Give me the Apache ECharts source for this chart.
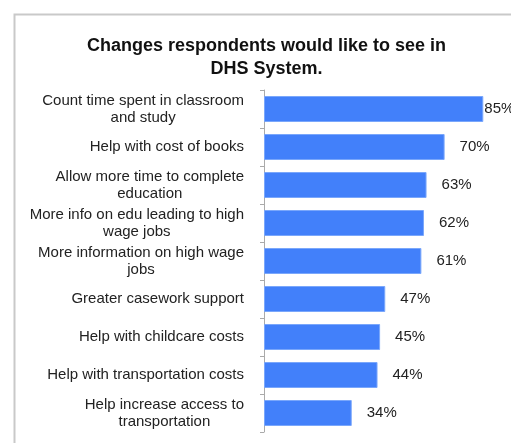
<!DOCTYPE html>
<html>
<head>
<meta charset="utf-8">
<script src="https://cdn.jsdelivr.net/npm/echarts@6/dist/echarts.min.js"></script>
<style>
  html, body { margin: 0; padding: 0; background: #fff; }
  #chart { width: 511px; height: 443px; }
</style>
</head>
<body>
<div id="chart"></div>
<script>
// Survey answers, top to bottom
var categories = [
  'Count time spent in classroom\nand study',
  'Help with cost of books',
  'Allow more time to complete\neducation',
  'More info on edu leading to high\nwage jobs',
  'More information on high wage\njobs',
  'Greater casework support',
  'Help with childcare costs',
  'Help with transportation costs',
  'Help increase access to\ntransportation'
];
// Share of respondents (%)
var percents = [85, 70, 63, 62, 61, 47, 45, 44, 34];

var FONT = '"Liberation Sans", Arial, sans-serif';
var LABEL_SIZE = 15;
var LABEL_COLOR = '#222222';

var chart = echarts.init(document.getElementById('chart'), null, { renderer: 'canvas' });

chart.setOption({
  backgroundColor: '#ffffff',
  animation: false,
  title: {
    text: 'Changes respondents would like to see in\nDHS System.',
    left: 261.5,
    top: 29.5,
    textAlign: 'center',
    textStyle: {
      fontFamily: FONT,
      fontSize: 18,
      fontWeight: 'bold',
      color: '#111111',
      lineHeight: 23
    }
  },
  graphic: [{
    type: 'rect',
    left: 12,
    top: 12,
    shape: { width: 530, height: 460 },
    style: { fill: 'none', stroke: '#c9c9c9', lineWidth: 2 },
    silent: true
  }],
  grid: {
    left: 264,
    top: 90,
    width: 258,
    height: 342,
    containLabel: false,
    outerBoundsMode: 'none'
  },
  xAxis: {
    type: 'value',
    min: 0,
    max: 100,
    show: false
  },
  yAxis: {
    type: 'category',
    data: categories,
    inverse: true,
    axisLine: { show: true, lineStyle: { color: '#aaaaaa', width: 1 } },
    axisTick: { show: true, length: 4, lineStyle: { color: '#aaaaaa' } },
    axisLabel: {
      margin: 20,
      fontFamily: FONT,
      fontSize: LABEL_SIZE,
      color: LABEL_COLOR,
      // the label block sits right-aligned against the axis,
      // its lines centred on one another
      formatter: function (v) {
        return v.split('\n').map(function (s) { return '{c|' + s + '}'; }).join('\n');
      },
      rich: {
        c: { align: 'center', fontFamily: FONT, fontSize: LABEL_SIZE, color: LABEL_COLOR, lineHeight: 17 }
      }
    },
    splitLine: { show: false }
  },
  series: [{
    type: 'bar',
    data: percents.map(function (v, i) {
      return {
        value: v,
        label: { distance: i === 0 ? 1 : 15 }
      };
    }),
    barWidth: 26,
    itemStyle: { color: '#4280fa', borderColor: '#7aa7fb', borderWidth: 1 },
    label: {
      show: true,
      position: 'right',
      formatter: '{c}%',
      fontFamily: FONT,
      fontSize: 15,
      color: LABEL_COLOR
    }
  }]
});
</script>
</body>
</html>
